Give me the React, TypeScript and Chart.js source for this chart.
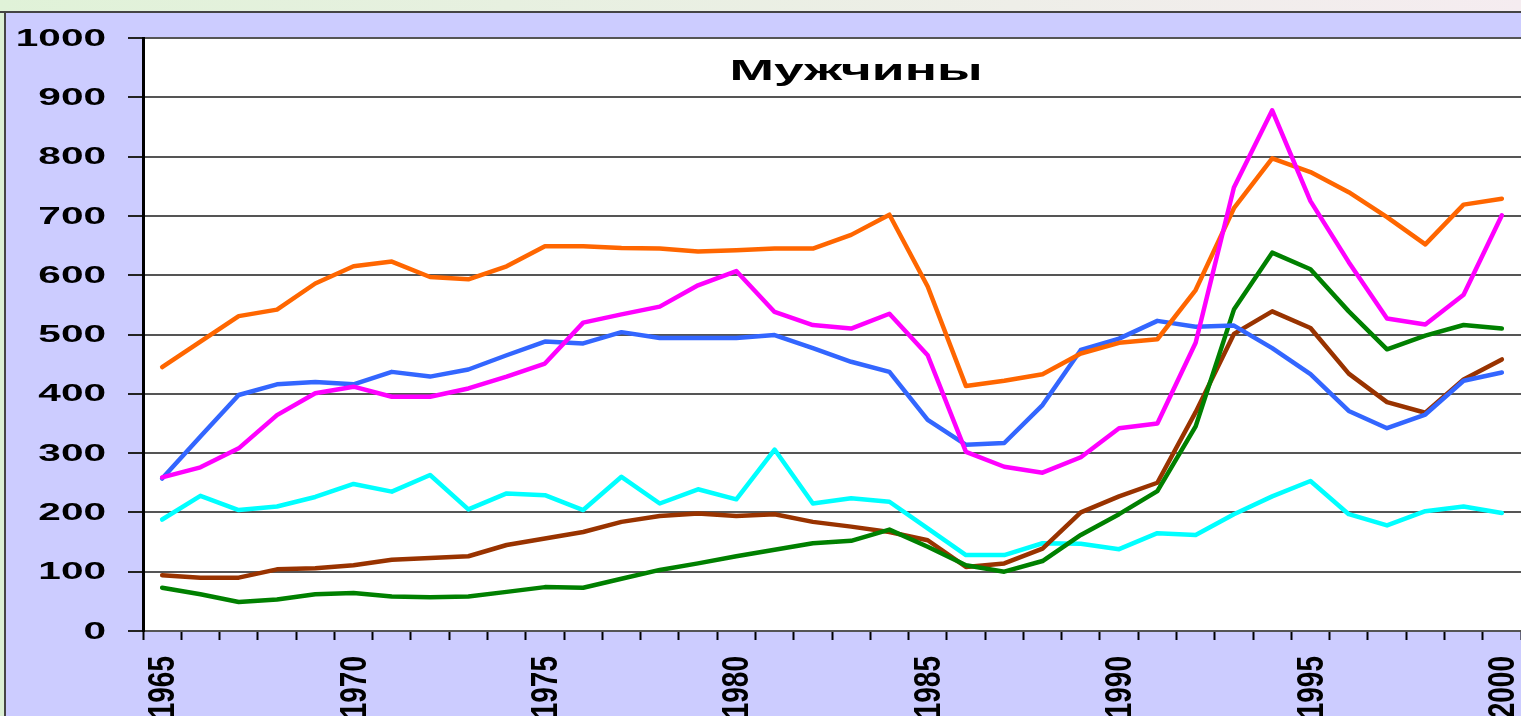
import React, { useEffect, useRef } from "react";
import { Chart, registerables } from "chart.js";

Chart.register(...registerables);

const years = [
  "1965", "1966", "1967", "1968", "1969", "1970", "1971", "1972", "1973", "1974",
  "1975", "1976", "1977", "1978", "1979", "1980", "1981", "1982", "1983", "1984",
  "1985", "1986", "1987", "1988", "1989", "1990", "1991", "1992", "1993", "1994",
  "1995", "1996", "1997", "1998", "1999", "2000",
];

const shownYears = ["1965", "1970", "1975", "1980", "1985", "1990", "1995", "2000"];

const titleText = "Мужчины";

const orangeSeries = [
  445, 488, 531, 542, 586, 615, 623, 597, 593, 615,
  649, 649, 646, 645, 640, 642, 645, 645, 668, 702,
  581, 413, 422, 433, 468, 486, 492, 575, 713, 797,
  774, 740, 698, 652, 719, 729,
];

const blueSeries = [
  257, 328, 398, 416, 420, 416, 437, 429, 441, 465,
  488, 485, 504, 494, 494, 494, 499, 477, 454, 437,
  356, 314, 317, 381, 474, 493, 523, 513, 515, 477,
  433, 371, 342, 365, 422, 436,
];

const magentaSeries = [
  259, 276, 308, 364, 401, 412, 395, 395, 409, 429,
  451, 520, 534, 547, 583, 607, 538, 516, 510, 535,
  465, 302, 277, 267, 293, 342, 350, 486, 748, 878,
  725, 622, 527, 517, 567, 701,
];

const cyanSeries = [
  188, 228, 204, 210, 226, 248, 235, 263, 205, 232,
  229, 204, 260, 215, 239, 222, 306, 215, 224, 218,
  173, 128, 128, 148, 147, 138, 165, 162, 197, 227,
  253, 197, 178, 202, 210, 199,
];

const brownSeries = [
  94, 90, 90, 104, 106, 111, 120, 123, 126, 145,
  156, 167, 184, 194, 198, 194, 197, 184, 176, 167,
  153, 108, 114, 139, 200, 227, 250, 369, 501, 539,
  511, 434, 386, 368, 424, 458,
];

const greenSeries = [
  73, 62, 49, 53, 62, 64, 58, 57, 58, 66,
  74, 73, 88, 103, 114, 126, 137, 148, 152, 171,
  142, 111, 100, 118, 162, 197, 236, 345, 542, 638,
  610, 539, 475, 498, 516, 510,
];

const yMin = 0;
const yMax = 1000;
const yStep = 100;

const FONT = '"Liberation Sans", Arial, sans-serif';

const decorPlugin = {
  id: "decor",
  beforeDraw(chart: any) {
    const { ctx, width, height, chartArea: a } = chart;
    ctx.save();
    ctx.fillStyle = "#CCCCFF";
    ctx.fillRect(0, 0, width, height);
    const g = ctx.createLinearGradient(0, 0, width, 0);
    g.addColorStop(0, "#E0F2D8");
    g.addColorStop(1, "#F5ECF0");
    ctx.fillStyle = g;
    ctx.fillRect(0, 0, width, 11);
    ctx.fillStyle = "#DCF0D4";
    ctx.fillRect(0, 11, 4, height - 11);
    ctx.strokeStyle = "#444";
    ctx.lineWidth = 2;
    ctx.beginPath();
    ctx.moveTo(0, 12);
    ctx.lineTo(width, 12);
    ctx.moveTo(5, 12);
    ctx.lineTo(5, height);
    ctx.stroke();
    ctx.fillStyle = "#FFFFFF";
    ctx.fillRect(a.left, a.top, a.right - a.left, a.bottom - a.top);
    ctx.restore();
  },
  afterDraw(chart: any) {
    const ctx = chart.ctx;
    const ys = chart.scales.y;
    const xs = chart.scales.x;
    ctx.save();
    ctx.fillStyle = "#000";
    // y labels (horizontally stretched)
    ctx.font = `bold 24px ${FONT}`;
    ctx.textAlign = "right";
    ctx.textBaseline = "middle";
    ys.ticks.forEach((t: any, i: number) => {
      const y = ys.getPixelForTick(i);
      ctx.save();
      ctx.translate(106, y + 1);
      ctx.scale(1.69, 1);
      ctx.fillText(String(t.value), 0, 0);
      ctx.restore();
    });
    // x labels (rotated)
    ctx.font = `bold 28px ${FONT}`;
    xs.ticks.forEach((t: any, i: number) => {
      if (!t.label) return;
      const x = xs.getPixelForTick(i);
      ctx.save();
      ctx.translate(x + 2, 656);
      ctx.rotate(-Math.PI / 2);
      ctx.scale(1, 1.32);
      ctx.textAlign = "right";
      ctx.textBaseline = "middle";
      ctx.fillText(String(t.label), 0, 0);
      ctx.restore();
    });
    // title
    ctx.font = `bold 30px ${FONT}`;
    ctx.textAlign = "center";
    ctx.textBaseline = "middle";
    ctx.save();
    ctx.translate(856, 72);
    ctx.scale(1.78, 1);
    ctx.fillText(titleText, 0, 0);
    ctx.restore();
    ctx.restore();
  },
};

function App() {
  const ref = useRef<HTMLCanvasElement | null>(null);

  useEffect(() => {
    if (!ref.current) return;
    const mk = (data: number[], color: string) => ({
      data,
      borderColor: color,
      backgroundColor: color,
      borderWidth: 4.5,
      pointRadius: 0,
      tension: 0,
      fill: false,
      borderJoinStyle: "round" as const,
      borderCapStyle: "round" as const,
    });
    const chart = new Chart(ref.current, {
      type: "line",
      data: {
        labels: years,
        datasets: [
          mk(magentaSeries, "#FF00FF"),
          mk(orangeSeries, "#FF6600"),
          mk(blueSeries, "#3366FF"),
          mk(greenSeries, "#008000"),
          mk(brownSeries, "#993300"),
          mk(cyanSeries, "#00FFFF"),
        ],
      },
      options: {
        responsive: false,
        animation: false,
        layout: { padding: { top: 38, left: 0, right: 0, bottom: 0 } },
        plugins: {
          legend: { display: false },
          title: { display: false },
          tooltip: { enabled: false },
        },
        scales: {
          x: {
            type: "category",
            offset: true,
            grid: {
              offset: true,
              drawOnChartArea: false,
              drawTicks: true,
              tickLength: 9,
              tickColor: "#000",
              tickWidth: 2,
            },
            border: { display: true, color: "#555", width: 2 },
            ticks: {
              display: false,
              autoSkip: false,
              callback: (_v: any, i: number) => (shownYears.includes(years[i]) ? years[i] : ""),
            },
            afterFit: (s: any) => {
              s.height = 85;
            },
          },
          y: {
            min: yMin,
            max: yMax,
            ticks: { display: false, stepSize: yStep },
            grid: {
              color: "#555",
              lineWidth: 2,
              drawTicks: true,
              tickLength: 15,
              tickColor: "#222",
              tickWidth: 2,
            },
            border: { display: true, color: "#000", width: 3 },
            afterFit: (s: any) => {
              s.width = 143;
            },
          },
        },
      } as any,
      plugins: [decorPlugin],
    });
    return () => chart.destroy();
  }, []);

  return (
    <div
      style={{
        position: "fixed",
        left: 0,
        top: 0,
        width: 1521,
        height: 716,
        overflow: "hidden",
        background: "#CCCCFF",
      }}
    >
      <canvas ref={ref} width={1521} height={716} style={{ display: "block" }} />
    </div>
  );
}

export default App;
